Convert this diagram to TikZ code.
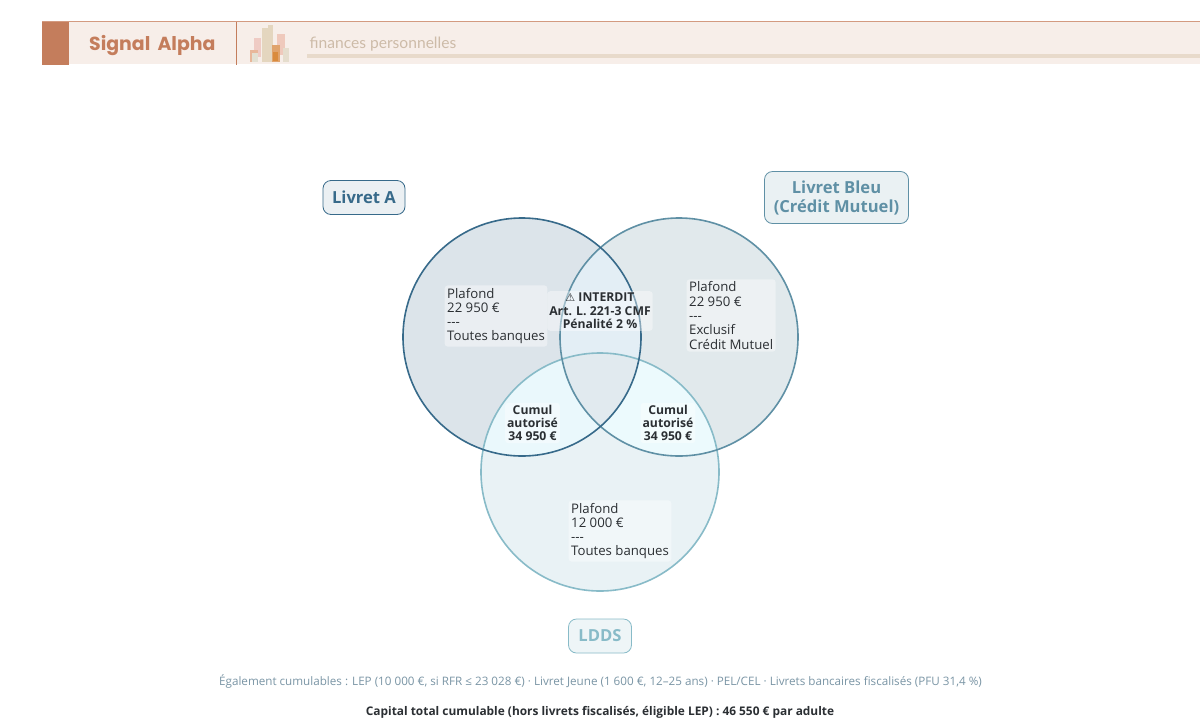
\documentclass[tikz,border=0pt]{standalone}
\usepackage{fontspec}
\setmainfont{Liberation Sans}
\newfontfamily\popp{Poppins}
\newfontfamily\lat{Lato}
\newfontfamily\opn{Open Sans}
\newfontfamily\djv{DejaVu Sans}
\definecolor{cA}{HTML}{376A8A}
\definecolor{cB}{HTML}{5F90A5}
\definecolor{cC}{HTML}{88BBC8}
\definecolor{tx}{HTML}{2B2F33}
\definecolor{hd}{HTML}{F7EEE9}
\definecolor{rust}{HTML}{C47D5C}
\definecolor{topl}{HTML}{D39A80}
\definecolor{subt}{HTML}{CDBBA8}
\definecolor{rule}{HTML}{E8DACB}
\definecolor{bb}{HTML}{E4D6BF}
\definecolor{bc}{HTML}{E5DDCD}
\definecolor{bd}{HTML}{EFCBC4}
\definecolor{be}{HTML}{EFC9BC}
\definecolor{bf}{HTML}{E0A36C}
\definecolor{bg}{HTML}{D98B3D}
\definecolor{bh}{HTML}{E8B79A}
\definecolor{bi}{HTML}{E3E0D2}
\definecolor{ra}{HTML}{DCE4EA}
\definecolor{rb}{HTML}{E1E9EC}
\definecolor{rc}{HTML}{E9F2F5}
\definecolor{rab}{HTML}{E3EEF5}
\definecolor{rac}{HTML}{EAF8FC}
\definecolor{rbc}{HTML}{ECFAFD}
\definecolor{rabc}{HTML}{E1EAEF}
\definecolor{foot}{HTML}{7A95A5}
\tikzset{
 lab/.style={rounded corners=3pt,fill=white,fill opacity=.4,text opacity=1,text=tx,font=\opn\fontsize{13.2}{14.3}\selectfont,align=left,inner sep=2.5pt},
 labb/.style={lab,font=\opn\bfseries\fontsize{12.2}{13.4}\selectfont,align=center,inner sep=2pt},
 tag/.style={rounded corners=8pt,line width=.8pt,font=\opn\bfseries\fontsize{16.6}{19}\selectfont,align=center,inner sep=0pt}
}
\begin{document}
\begin{tikzpicture}[x=1pt,y=-1pt]
\useasboundingbox (0,0) rectangle (1200,721);
\fill[white] (0,0) rectangle (1200,721);
% header
\fill[hd] (42,22) rectangle (1200,64);
\fill[rust] (42,22) rectangle (69,64.5);
\draw[topl,line width=.9pt] (42,21.7) -- (1200,21.7);
\draw[rust,line width=.8pt] (236.5,22) -- (236.5,64.5);
\node[anchor=west,inner sep=0pt,text=rust,font=\popp\fontsize{18.9}{22}\selectfont\bfseries] (brand) at (89,45.5) {Signal\, Alpha};
\node[anchor=west,inner sep=0pt,text=subt,font=\lat\fontsize{15.6}{18}\selectfont] (sub) at (309.5,44) {finances personnelles};
\fill[rule] (307,54) rectangle (1200,58);
\fill[bd] (254,38) rectangle (261,57);
\fill[bb] (262,28) rectangle (268,62);
\fill[bb] (268,25) rectangle (273,62);
\fill[be] (277,34) rectangle (285,55);
\fill[bc] (283,48) rectangle (289,62);
\fill[bf] (272,45) rectangle (280,62);
\fill[bg] (273,52) rectangle (278,61);
\fill[bh] (250,50) rectangle (258,62);
\fill[bi] (252,53) rectangle (258,62);
% venn
\coordinate (a) at (522,337);
\coordinate (b) at (679,337);
\coordinate (c) at (600,472);
\def\R{119}
\fill[ra] (a) circle (\R);
\fill[rb] (b) circle (\R);
\fill[rc] (c) circle (\R);
\begin{scope}\clip (a) circle (\R); \fill[rab] (b) circle (\R);\end{scope}
\begin{scope}\clip (a) circle (\R); \fill[rac] (c) circle (\R);\end{scope}
\begin{scope}\clip (b) circle (\R); \fill[rbc] (c) circle (\R);\end{scope}
\begin{scope}\clip (a) circle (\R); \clip (b) circle (\R); \fill[rabc] (c) circle (\R);\end{scope}
\draw[cC,line width=1.6pt] (c) circle (\R);
\draw[cB,line width=1.6pt] (b) circle (\R);
\draw[cA,line width=1.6pt] (a) circle (\R);
% region labels
\node[lab,anchor=west] (la) at (444.5,316) {Plafond\\22 950 €\\---\\Toutes banques};
\node[lab,anchor=west] (lb) at (686.5,315.5) {Plafond\\22 950 €\\---\\Exclusif\\Crédit Mutuel};
\node[lab,anchor=west] (lc) at (568.5,531) {Plafond\\12 000 €\\---\\Toutes banques};
\node[labb] (li) at (600,311) {{\djv\bfseries\fontsize{11}{12}\selectfont ⚠} INTERDIT\\Art. L. 221-3 CMF\\Pénalité 2 \%};
\node[labb] (lac) at (532.5,423) {Cumul\\autorisé\\34 950 €};
\node[labb] (lbc) at (668,423) {Cumul\\autorisé\\34 950 €};
% tags
\node[tag,draw=cA,fill=cA!10,text=cA,minimum width=82pt,minimum height=34pt] (ta) at (364,197.5) {Livret A};
\node[tag,draw=cB,fill=cB!13,text=cB,minimum width=144pt,minimum height=52pt] (tb) at (836.5,197.5) {\strut Livret Bleu\\(Crédit Mutuel)};
\node[tag,draw=cC,fill=cC!14,text=cC,minimum width=63pt,minimum height=34pt] (tc) at (600,636) {LDDS};
% footer
\node[inner sep=0pt,text=foot,font=\opn\fontsize{11.66}{14}\selectfont] (f1) at (600.5,681.5) {Également cumulables : LEP (10 000 €, si RFR ≤ 23 028 €) · Livret Jeune (1 600 €, 12–25 ans) · PEL/CEL · Livrets bancaires fiscalisés (PFU 31,4 \%)};
\node[inner sep=0pt,text=tx,font=\opn\bfseries\fontsize{11.9}{14}\selectfont] (f2) at (600,712.5) {Capital total cumulable (hors livrets fiscalisés, éligible LEP) : 46 550 € par adulte};
\end{tikzpicture}
\end{document}
